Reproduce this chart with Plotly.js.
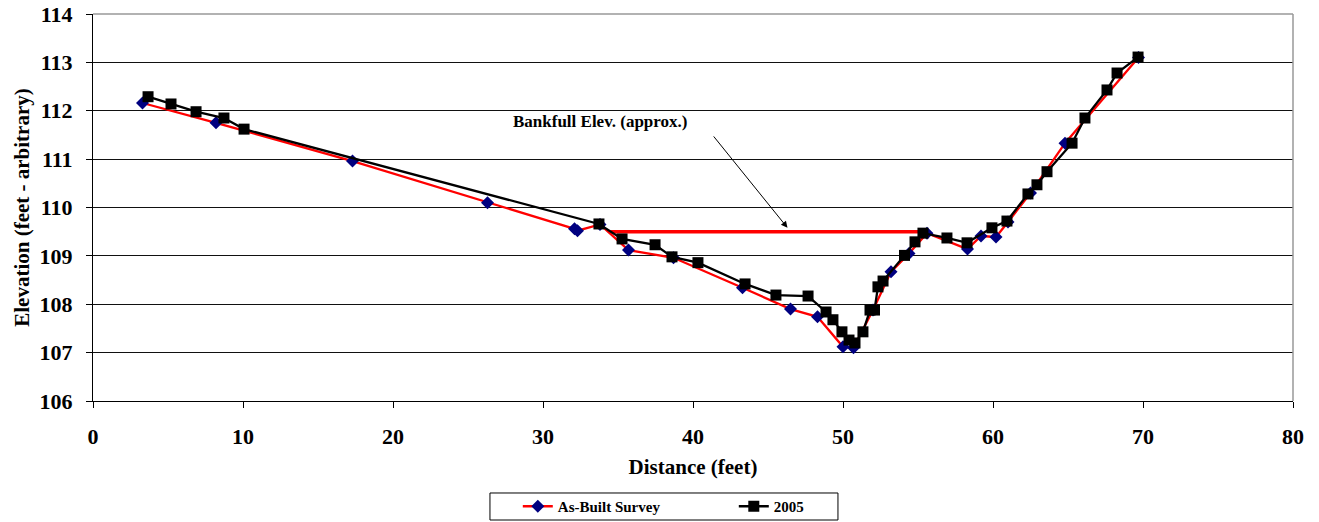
<!DOCTYPE html>
<html>
<head>
<meta charset="utf-8">
<script src="https://cdn.plot.ly/plotly-3.0.1.min.js"></script>
<style>html,body{margin:0;padding:0;background:#fff}#chart{width:1319px;height:522px}</style>
</head>
<body>
<div id="chart"></div>
<script>
const asBuiltX = [3.3, 8.2, 17.3, 26.3, 32.1, 32.3, 33.8, 35.7, 38.7, 43.3, 46.5, 48.3, 50.0, 50.7, 52.0, 53.2, 54.4, 55.6, 58.3, 59.2, 60.2, 61.0, 62.5, 64.8, 69.7];
const asBuiltY = [112.16, 111.75, 110.96, 110.1, 109.56, 109.52, 109.65, 109.12, 108.96, 108.34, 107.9, 107.74, 107.12, 107.1, 107.88, 108.67, 109.05, 109.47, 109.14, 109.41, 109.39, 109.7, 110.3, 111.33, 113.1];

const y2005X = [3.67, 5.2, 6.87, 8.73, 10.07, 33.73, 35.27, 37.47, 38.6, 40.33, 43.47, 45.53, 47.67, 48.87, 49.33, 49.93, 50.4, 50.8, 51.33, 51.8, 52.1, 52.33, 52.67, 54.1, 54.8, 55.33, 56.93, 58.27, 59.93, 60.93, 62.33, 62.93, 63.6, 65.27, 66.13, 67.6, 68.27, 69.67];
const y2005Y = [112.29, 112.14, 111.98, 111.85, 111.62, 109.66, 109.35, 109.23, 108.98, 108.86, 108.42, 108.19, 108.17, 107.84, 107.68, 107.43, 107.26, 107.2, 107.43, 107.88, 107.88, 108.36, 108.48, 109.01, 109.29, 109.47, 109.37, 109.27, 109.58, 109.72, 110.28, 110.47, 110.74, 111.33, 111.85, 112.43, 112.78, 113.11];

const bankfullX = [34.5, 55.6];
const bankfullY = [109.5, 109.5];

const seriesNames = ["As-Built Survey", "2005"];
const annotationText = "Bankfull Elev. (approx.)";
const annotationPos = [33.8, 111.77];
const arrowTail = [41.3, 111.5];
const arrowHead = [46.3, 109.58];

const xTicks = [0, 10, 20, 30, 40, 50, 60, 70, 80];
const yTicks = [106, 107, 108, 109, 110, 111, 112, 113, 114];

const F = "Liberation Serif, Times New Roman, serif";

const traces = [
  {x: bankfullX, y: bankfullY, mode: 'lines', line: {color: '#ff0000', width: 3.5}, showlegend: false, hoverinfo: 'skip'},
  {x: asBuiltX, y: asBuiltY, name: seriesNames[0], mode: 'lines+markers',
   line: {color: '#ff0000', width: 2.3}, marker: {symbol: 'diamond', size: 10, color: '#000080'}},
  {x: y2005X, y: y2005Y, name: seriesNames[1], mode: 'lines+markers',
   line: {color: '#000000', width: 2.3}, marker: {symbol: 'square', size: 11, color: '#000000'}}
];

const layout = {
  width: 1319, height: 522,
  margin: {l: 93, r: 26, t: 14, b: 121, autoexpand: false},
  paper_bgcolor: '#fff', plot_bgcolor: '#fff',
  font: {family: F, color: '#000'},
  showlegend: true,
  xaxis: {
    range: [0, 80], tickvals: xTicks, ticktext: xTicks.map(String),
    showgrid: false, zeroline: false, showline: true, linecolor: '#000', linewidth: 1,
    ticks: 'outside', ticklen: 6, tickcolor: '#000', ticklabelstandoff: 10,
    tickfont: {family: F, size: 22, color: '#000', weight: 'bold'},
    title: {text: '<b>Distance (feet)</b>', font: {family: F, size: 21, color: '#000'}, standoff: 10}
  },
  yaxis: {
    range: [106, 114], tickvals: yTicks, ticktext: yTicks.map(String),
    showgrid: true, gridcolor: '#111', gridwidth: 1, zeroline: false,
    showline: true, linecolor: '#000', linewidth: 1,
    ticks: 'outside', ticklen: 6, tickcolor: '#000', ticklabelstandoff: 9,
    tickfont: {family: F, size: 22, color: '#000', weight: 'bold'},
    title: {text: '<b>Elevation (feet - arbitrary)</b>', font: {family: F, size: 21, color: '#000'}, standoff: 4}
  },
  legend: {
    orientation: 'h', x: 0.354, xanchor: 'left', y: -0.230, yanchor: 'top',
    borderwidth: 0, bgcolor: 'rgba(0,0,0,0)',
    font: {family: F, size: 15, color: '#000', weight: 'bold'},
    entrywidth: 171, traceorder: 'normal'
  },
  shapes: [
    {type: 'rect', xref: 'paper', yref: 'paper', x0: 0.3308, x1: 0.6208, y0: -0.3075, y1: -0.2377,
     line: {color: '#000', width: 1}, fillcolor: 'rgba(0,0,0,0)', layer: 'below'},
    {type: 'line', xref: 'paper', yref: 'paper', x0: 0, x1: 1, y0: 1, y1: 1, line: {color: '#999', width: 1.5}},
    {type: 'line', xref: 'paper', yref: 'paper', x0: 1, x1: 1, y0: 0, y1: 1, line: {color: '#999', width: 1.5}}
  ],
  annotations: [
    {x: arrowHead[0], y: arrowHead[1], ax: arrowTail[0], ay: arrowTail[1], axref: 'x', ayref: 'y',
     xref: 'x', yref: 'y', text: '', showarrow: true, arrowhead: 2, arrowsize: 1.3, arrowwidth: 1, arrowcolor: '#000'},
    {x: annotationPos[0], y: annotationPos[1], xref: 'x', yref: 'y', text: '<b>' + annotationText + '</b>', showarrow: false,
     font: {family: F, size: 17, color: '#000'}}
  ]
};

Plotly.newPlot('chart', traces, layout, {displayModeBar: false, staticPlot: true});
</script>
</body>
</html>
